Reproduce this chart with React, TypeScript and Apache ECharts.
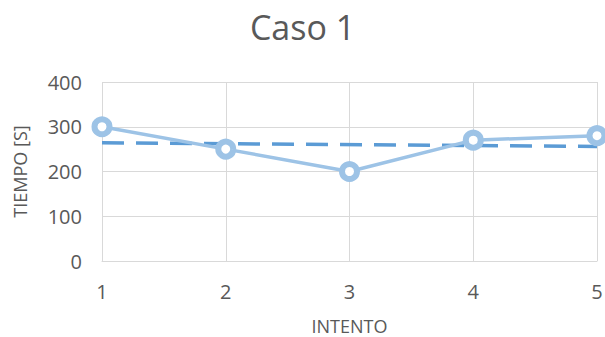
import React, { useEffect, useRef } from "react";
import * as echarts from "echarts";

const attempts = [1, 2, 3, 4, 5];
const times = [300, 250, 200, 270, 280];
const trendX = [1, 5];
const trendY = [264, 256];
const yTicks = { min: 0, max: 400, interval: 100 };

const FONT = "'Open Sans', 'Noto Sans', sans-serif";
const TXT = "#595959";

export default function App() {
  const ref = useRef<HTMLDivElement>(null);
  useEffect(() => {
    if (!ref.current) return;
    const chart = echarts.init(ref.current, null, { renderer: "svg" });
    chart.setOption({
      animation: false,
      backgroundColor: "#ffffff",
      textStyle: { fontFamily: FONT },
      title: {
        text: "Caso 1",
        left: "center",
        top: 5,
        textStyle: { fontFamily: FONT, fontSize: 34, fontWeight: "normal", color: TXT },
      },
      grid: {
        left: 102,
        right: 8,
        top: 82,
        bottom: 76,
        containLabel: false,
        outerBoundsMode: "none",
      },
      xAxis: {
        type: "value",
        min: 1,
        max: 5,
        interval: 1,
        name: "INTENTO",
        nameLocation: "middle",
        nameGap: 56,
        nameTextStyle: { fontFamily: FONT, fontSize: 18, color: TXT },
        axisLine: { show: true, lineStyle: { color: "#d9d9d9", width: 1 } },
        axisTick: { show: false },
        axisLabel: { margin: 20, fontSize: 20, color: TXT, fontFamily: FONT },
        splitLine: { show: true, lineStyle: { color: "#d9d9d9", width: 1 } },
      },
      yAxis: {
        type: "value",
        min: yTicks.min,
        max: yTicks.max,
        interval: yTicks.interval,
        name: "TIEMPO [S]",
        nameLocation: "middle",
        nameGap: 73,
        nameTextStyle: { fontFamily: FONT, fontSize: 18, color: TXT },
        axisLine: { show: false },
        axisTick: { show: false },
        axisLabel: { margin: 20, fontSize: 20, color: TXT, fontFamily: FONT },
        splitLine: { show: true, lineStyle: { color: "#d9d9d9", width: 1 } },
      },
      series: [
        {
          type: "line",
          data: trendX.map((x, i) => [x, trendY[i]]),
          symbol: "none",
          lineStyle: { color: "#5b9bd5", width: 3.5, type: [22, 12] },
          z: 2,
        },
        {
          type: "line",
          data: attempts.map((x, i) => [x, times[i]]),
          symbol: "circle",
          symbolSize: 15,
          itemStyle: { color: "#ffffff", borderColor: "#9dc3e6", borderWidth: 6 },
          lineStyle: { color: "#9dc3e6", width: 3.5 },
          z: 3,
        },
      ],
    });
    return () => chart.dispose();
  }, []);
  return (
    <div
      ref={ref}
      style={{ position: "fixed", left: 0, top: 0, width: 605, height: 337, background: "#fff" }}
    />
  );
}
